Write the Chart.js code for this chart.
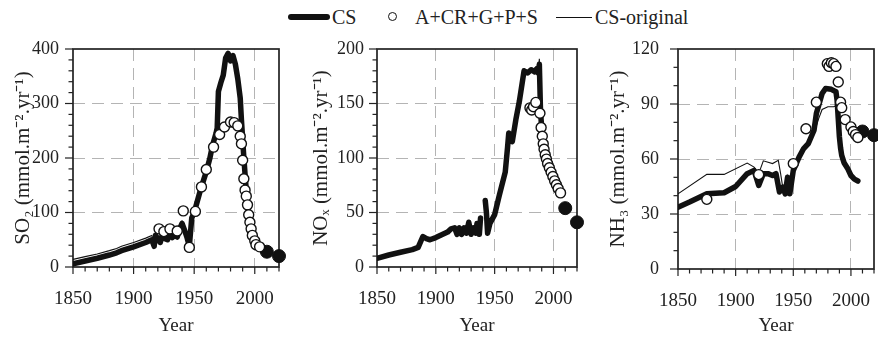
<!DOCTYPE html>
<html lang="en">
<head>
<meta charset="UTF-8">
<title>SO2, NOx and NH3 deposition</title>
<script src="https://cdn.jsdelivr.net/npm/chart.js"></script>
<style>
    html, body {
        margin: 0;
        padding: 0;
        background: #fff;
    }
    body {
        width: 878px;
        height: 337px;
        position: relative;
        overflow: hidden;
        font-family: 'Liberation Serif', serif;
        color: #222;
    }
    .panel {
        position: absolute;
        top: 0;
    }
    .leg {
        position: absolute;
        font-size: 20px;
        line-height: 20px;
        top: 7px;
        white-space: nowrap;
    }
    .sym {
        position: absolute;
        background: #111;
    }
</style>
</head>
<body>
    <!-- legend -->
    <div class="sym" style="left:288px; top:14px; width:42px; height:6px; border-radius:3px;"></div>
    <div class="leg" style="left:332px;">CS</div>
    <div class="sym" style="left:388px; top:12px; width:7px; height:7px; border-radius:50%; background:#fff; border:1.5px solid #111;"></div>
    <div class="leg" style="left:415px;">A+CR+G+P+S</div>
    <div class="sym" style="left:556px; top:17px; width:36px; height:1.3px;"></div>
    <div class="leg" style="left:595px;">CS-original</div>

    <canvas id="so2" class="panel" width="300" height="337" style="left:0px"></canvas>
    <canvas id="nox" class="panel" width="300" height="337" style="left:298px"></canvas>
    <canvas id="nh3" class="panel" width="300" height="337" style="left:595px"></canvas>

<script>
// ---- SO2 ----
const soCsYears = [1850,1860,1870,1880,1886,1890,1900,1910,1915,1917,1918,1920,1922,1924,1926,1928,1930,1932,1934,1936,1938,1940,1942,1944,1946,1948,1950,1955,1960,1963,1965,1968,1969,1970,1972,1974,1976,1978,1980,1982,1984,1986,1988,1989,1990,1991,1992,1993,1994,1995,1996,1997,1998,1999,2000,2002,2005];
const soCs = [6,11,16,22,26,30,37,45,50,38,58,52,45,60,52,50,60,54,58,55,70,80,68,55,38,90,100,140,175,200,222,245,255,322,338,352,384,392,378,388,372,345,310,270,235,200,170,140,115,95,78,64,52,45,40,36,33];
const soOrigYears = [1850,1860,1870,1880,1886,1890,1900,1910,1915,1917,1918,1920,1925,1930,1935,1938,1940,1942,1944,1946,1948,1950,1955,1960,1965,1968,1969,1970,1972,1974,1976,1978,1980,1982,1984,1986,1988,1990,1992,1994,1996,1998,2000,2002,2005];
const soOrig = [14,19,24,30,34,38,45,53,58,44,62,56,58,60,62,74,84,70,56,40,88,100,140,175,222,245,255,322,338,352,386,394,380,388,372,345,310,235,170,115,78,52,40,36,33];
const soObsYears = [1921,1925,1930,1936,1941,1946,1951,1956,1960,1966,1971,1975,1980,1983,1986,1988,1989,1990,1991,1992,1993,1994,1995,1996,1997,1998,2000,2001,2004];
const soObs = [70,65,70,66,103,36,102,147,179,220,243,257,266,265,259,240,226,196,162,141,130,114,96,82,70,58,48,41,37];
const soEndYears = [2010,2020];
const soEnd = [28,20];

// ---- NOx ----
const noxCsYears = [1850,1860,1870,1880,1885,1889,1892,1895,1900,1905,1910,1913,1916,1918,1920,1922,1924,1926,1928,1930,1932,1934,1935,1937,1938,1940,1942,1943,1944,1946,1950,1954,1959,1961,1962,1964,1965,1968,1971,1975,1978,1981,1984,1986,1987,1988,1989,1990,1992,1994,1996,1998,2000,2002,2004,2006];
const noxCs = [8,11,13.5,16,18,28,26,25,27,29.5,32,35,36,30,36,30,36,31,41,30,36,31,40,30,45,null,61,50,31,40,48,66,87,110,123,118,115,135,152,180,178,181,179,182,178,186,142,128,113,103,95,88,82,77,73,70];
const noxOrigYears = [1850,1870,1885,1889,1895,1900,1910,1916,1920,1924,1928,1932,1936,1938,1940,1942,1944,1946,1950,1955,1960,1962,1965,1968,1972,1975,1980,1985,1987,1988,1989,1990,1995,2000,2006];
const noxOrig = [9,14,19,28,25,27,32,36,29,36,41,35,31,45,null,60,32,40,48,69,93,122,116,136,165,181,180,183,179,191,142,128,98,82,70];
const noxObsYears = [1980,1981.5,1983,1985,1988.5,1989.5,1990.5,1991.3,1992,1993,1994,1995,1996.5,1998,1999.5,2001,2002.5,2004,2006];
const noxObs = [146,144,147,151,141,128,120,113,108,103,99,95,91,87,83,79,75.5,72,68];
const noxEndYears = [2010,2020];
const noxEnd = [54,41];

// ---- NH3 ----
const nhCsYears = [1850,1860,1875,1890,1900,1910,1916,1920,1924,1928,1932,1935,1938,1941,1943,1945,1947,1950,1955,1959,1963,1968,1970,1975,1978,1983,1987,1988,1989,1990,1991,1992,1994,1997,2000,2003,2006];
const nhCs = [33.7,36.5,41,41.6,45,52,53.8,45.6,52,52,51,52,42,44.7,41,50,41,53.8,61,65.7,68.4,75.7,84.8,95.7,98.5,98,96.7,92,82,72,66,62,58,55,51,49,48];
const nhOrigYears = [1850,1875,1890,1910,1916,1920,1924,1932,1937,1939,1941,1943,1945,1947,1950,1955,1959,1963,1968,1972,1975,1980,1985,1987,1988,1989,1990,1991,1992,1994,1997,2000,2003,2006];
const nhOrig = [41,51.6,51.6,57.8,55.6,52,59,57.5,59.3,52,44,41,50,42,53,60,65,68,74,82,87,88.5,88.5,89,88,81,72,66,62,58,55,51,49,48];
const nhObsYears = [1875,1920,1950,1961,1970,1979.5,1981,1983,1985,1987,1989,1991,1992,1995,2000,2002,2004,2006];
const nhObs = [38,51.5,57.5,76.5,91,112,110.5,112.5,112,110.5,102,91,88,81.5,77.5,75,73.3,71.7];
const nhEndYears = [2010,2020];
const nhEnd = [75,73];

const FONT = "'Liberation Serif', 'Times New Roman', serif";
const INK = '#111';

function pts(xs, ys) {
    return xs.map((x, i) => ({x: x, y: ys[i]}));
}

// box round the plot + small/large tick marks
function framePlugin(xMajor, yMajor) {
    return {
        id: 'frame',
        beforeDatasetsDraw(chart) {
            const {ctx, chartArea: a, scales} = chart;
            ctx.save();
            ctx.strokeStyle = '#222';
            ctx.lineWidth = 1.2;
            scales.x.ticks.forEach(t => {
                const p = scales.x.getPixelForValue(t.value);
                const len = t.value % xMajor === 0 ? 7 : 4.5;
                ctx.beginPath();
                ctx.moveTo(p, a.bottom);
                ctx.lineTo(p, a.bottom + len);
                ctx.stroke();
            });
            scales.y.ticks.forEach(t => {
                const p = scales.y.getPixelForValue(t.value);
                const len = t.value % yMajor === 0 ? 8 : 4.5;
                ctx.beginPath();
                ctx.moveTo(a.left, p);
                ctx.lineTo(a.left - len, p);
                ctx.stroke();
            });
            ctx.lineWidth = 1.7;
            ctx.strokeRect(a.left, a.top, a.right - a.left, a.bottom - a.top);
            ctx.restore();
        }
    };
}

function makePanel(id, cfg) {
    const gridColor = (major, min, max) => c =>
        (c.tick && c.tick.value % major === 0 && c.tick.value !== min && c.tick.value !== max) ? '#b4b4b4' : 'rgba(0,0,0,0)';

    new Chart(document.getElementById(id), {
        type: 'line',
        data: {
            datasets: [{
                label: 'A+CR+G+P+S',
                data: pts(cfg.obsX, cfg.obsY),
                showLine: false,
                pointRadius: 5,
                pointBackgroundColor: '#fff',
                pointBorderColor: INK,
                pointBorderWidth: 1.4,
                order: 0
            }, {
                label: 'CS (2010, 2020)',
                data: pts(cfg.endX, cfg.endY),
                showLine: false,
                pointRadius: 6.5,
                pointBackgroundColor: INK,
                pointBorderColor: INK,
                clip: false,
                order: 1
            }, {
                label: 'CS',
                data: pts(cfg.csX, cfg.csY),
                borderColor: INK,
                borderWidth: 5.5,
                borderJoinStyle: 'round',
                borderCapStyle: 'round',
                pointRadius: 0,
                spanGaps: false,
                order: 2
            }, {
                label: 'CS-original',
                data: pts(cfg.origX, cfg.origY),
                borderColor: INK,
                borderWidth: 1.1,
                pointRadius: 0,
                spanGaps: false,
                order: 3
            }]
        },
        options: {
            responsive: false,
            animation: false,
            devicePixelRatio: 1,
            layout: {padding: {top: cfg.top, right: cfg.right, left: 0, bottom: 0}},
            plugins: {legend: {display: false}, tooltip: {enabled: false}},
            scales: {
                x: {
                    type: 'linear',
                    min: 1850,
                    max: 2020,
                    afterFit: s => { s.height = 337 - cfg.bottom; },
                    ticks: {
                        stepSize: 10,
                        autoSkip: false,
                        maxRotation: 0,
                        padding: 21,
                        color: '#222',
                        font: {family: FONT, size: 19},
                        callback: v => v % 50 === 0 ? String(v) : ''
                    },
                    grid: {
                        drawTicks: false,
                        color: gridColor(50, 1850, 2020),
                        lineWidth: 1
                    },
                    border: {display: false, dash: [12, 7]},
                    title: {
                        display: true,
                        text: 'Year',
                        color: '#222',
                        font: {family: FONT, size: 19},
                        padding: {top: 0, bottom: 0}
                    }
                },
                y: {
                    min: 0,
                    max: cfg.yMax,
                    afterFit: s => { s.width = cfg.yw; },
                    ticks: {
                        stepSize: cfg.yMinor,
                        autoSkip: false,
                        padding: cfg.yPad,
                        color: '#222',
                        font: {family: FONT, size: 18},
                        callback: v => v % cfg.yMajor === 0 ? String(v) : ''
                    },
                    grid: {
                        drawTicks: false,
                        color: gridColor(cfg.yMajor, 0, cfg.yMax),
                        lineWidth: 1
                    },
                    border: {display: false, dash: [12, 7]},
                    title: {
                        display: true,
                        text: cfg.yTitle,
                        color: '#222',
                        font: {family: FONT, size: 21},
                        padding: {top: 11, bottom: 0}
                    }
                }
            }
        },
        plugins: [framePlugin(50, cfg.yMajor)]
    });
}

makePanel('so2', {
    csX: soCsYears, csY: soCs, origX: soOrigYears, origY: soOrig,
    obsX: soObsYears, obsY: soObs, endX: soEndYears, endY: soEnd,
    yMax: 400, yMajor: 100, yMinor: 20, yTitle: 'SO\u2082 (mmol.m\u207B\u00B2.yr\u207B\u00B9)',
    top: 49, bottom: 267, yw: 73, right: 14.5, yPad: 14
});
makePanel('nox', {
    csX: noxCsYears, csY: noxCs, origX: noxOrigYears, origY: noxOrig,
    obsX: noxObsYears, obsY: noxObs, endX: noxEndYears, endY: noxEnd,
    yMax: 200, yMajor: 50, yMinor: 10, yTitle: 'NO\u2093 (mmol.m\u207B\u00B2.yr\u207B\u00B9)',
    top: 49, bottom: 267, yw: 79, right: 15, yPad: 13
});
makePanel('nh3', {
    csX: nhCsYears, csY: nhCs, origX: nhOrigYears, origY: nhOrig,
    obsX: nhObsYears, obsY: nhObs, endX: nhEndYears, endY: nhEnd,
    yMax: 120, yMajor: 30, yMinor: 10, yTitle: 'NH\u2083 (mmol.m\u207B\u00B2.yr\u207B\u00B9)',
    top: 49, bottom: 269, yw: 83, right: 14, yPad: 19
});
</script>
</body>
</html>
